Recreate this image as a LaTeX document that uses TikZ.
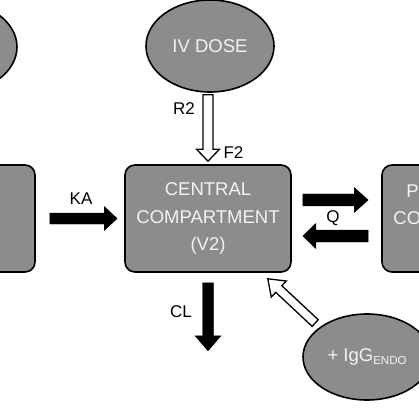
\documentclass[tikz,border=0pt]{standalone}
\usepackage{fontspec}
\setmainfont{Liberation Sans}
\usetikzlibrary{shapes.geometric,calc}
\definecolor{boxgray}{RGB}{140,140,140}
\definecolor{txtwhite}{RGB}{242,242,242}
% block arrow: style, from, to, shaft half width, head half width, head length
\newcommand{\blockarrow}[6]{%
  \coordinate (ba-h) at ($(#3)!#6!(#2)$);
  \draw[#1] ($(#2)!#4!90:(#3)$) -- ($(ba-h)!#4!90:(#3)$) -- ($(ba-h)!#5!90:(#3)$) -- (#3)
    -- ($(ba-h)!#5!-90:(#3)$) -- ($(ba-h)!#4!-90:(#3)$) -- ($(#2)!#4!-90:(#3)$) -- cycle;
}
\begin{document}
\begin{tikzpicture}[x=1pt,y=-1pt,
  compbox/.style={rectangle, rounded corners=10pt, draw=black, line width=1.6pt, fill=boxgray,
    text=txtwhite, minimum width=166pt, minimum height=107pt, inner sep=0pt, align=center,
    font=\fontsize{18.5}{27.5}\selectfont},
  dose/.style={ellipse, draw=black, line width=1.6pt, fill=boxgray, text=txtwhite,
    minimum width=128pt, minimum height=92pt, inner sep=0pt, font=\fontsize{18.5}{21}\selectfont},
  lbl/.style={text=black, inner sep=0pt, font=\fontsize{17}{19}\selectfont},
  hollow/.style={draw=black, fill=white, line width=1.3pt, line join=miter},
  solid/.style={draw=black, fill=black, line width=0.4pt, line join=miter}]
\useasboundingbox (0,0) rectangle (419,419);
\begin{scope}
\clip (0,0) rectangle (419,419);
\node[compbox] (central) at (208,218.5) {CENTRAL\\COMPARTMENT\\(V2)};
\node[compbox] (depot) at (-48,218.5) {};
\node[compbox] (periph) at (465,218.5) {PERIPHERAL\\COMPARTMENT\\\mbox{}};
\node[dose] (iv) at (210,46) {IV DOSE};
\node[dose] (sc) at (-47,47) {};
\node[dose, minimum height=86pt] (igg) at (367,357) {+ IgG\raisebox{-2.5pt}{\fontsize{11.5}{12}\selectfont ENDO}};

% IV dose arrow
\coordinate (ivA) at ($(iv.south)+(-2,2)$);
\coordinate (ivB) at ($(central.north)+(0,-3)$);
\blockarrow{hollow}{ivA}{ivB}{5pt}{11.5pt}{12pt}
% KA
\coordinate (kaA) at ($(depot.east)+(14,0)$);
\coordinate (kaB) at ($(central.west)+(-7,0)$);
\blockarrow{solid}{kaA}{kaB}{5.5pt}{12pt}{13pt}
% Q out
\coordinate (q1A) at ($(central.east)+(11,-18.5)$);
\coordinate (q1B) at ($(periph.west)+(-13,-18.5)$);
\blockarrow{solid}{q1A}{q1B}{6pt}{12.5pt}{14pt}
% Q back
\coordinate (q2A) at ($(periph.west)+(-13,17.5)$);
\coordinate (q2B) at ($(central.east)+(11,17.5)$);
\blockarrow{solid}{q2A}{q2B}{6pt}{12.5pt}{13pt}
% CL
\coordinate (clA) at ($(central.south)+(0,10)$);
\coordinate (clB) at ($(central.south)+(0,78)$);
\blockarrow{solid}{clA}{clB}{5.5pt}{13pt}{15pt}
% IgG endo
\coordinate (igA) at ($(igg.north west)+(-6,-3)$);
\coordinate (igB) at ($(central.south east)+(-24,6)$);
\blockarrow{hollow}{igA}{igB}{4.5pt}{11pt}{15pt}

\node[lbl] (r2) at (184,108.5) {R2};
\node[lbl] (f2) at (233.5,153) {F2};
\node[lbl] (ka) at (81,198.5) {KA};
\node[lbl] (q) at (333,218) {Q};
\node[lbl] (cl) at (181,311.5) {CL};
\end{scope}
\end{tikzpicture}
\end{document}
